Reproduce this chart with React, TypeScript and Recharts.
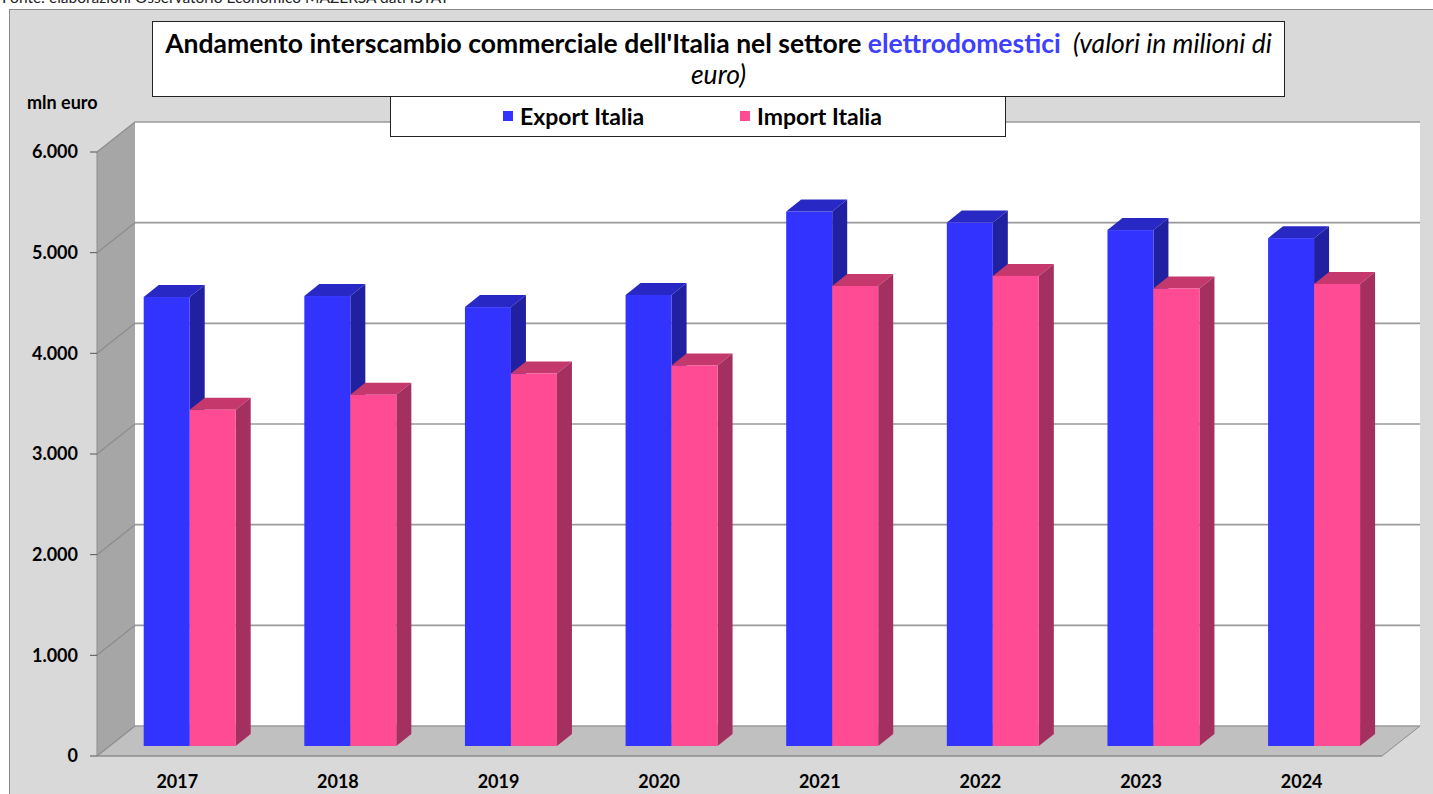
import React from "react";
import { Bar, BarChart, CartesianGrid, ReferenceArea, XAxis, YAxis } from "recharts";

const years = ["2017", "2018", "2019", "2020", "2021", "2022", "2023", "2024"];
const exportItalia = [4460, 4470, 4360, 4480, 5310, 5200, 5125, 5045];
const importItalia = [3340, 3490, 3700, 3780, 4570, 4670, 4545, 4590];
const yTicks = [0, 1000, 2000, 3000, 4000, 5000, 6000];
const seriesNames = ["Export Italia", "Import Italia"];
const seriesColors = ["#3333ff", "#ff4a94"];

const data = years.map((y, i) => ({ year: y, exp: exportItalia[i], imp: importItalia[i] }));

// depth of the 3d box (walls) and of the bars
const WX = 38;
const WY = -30;
const BX = 12.7;
const BY = -10;
const DX = 15;
const DY = -12;

const fmt = (v: number) => String(v).replace(/\B(?=(\d{3})+(?!\d))/g, ".");

function Box3D(props: any, front: string, top: string, side: string) {
  const { x, y, width, height } = props;
  if (!height || height <= 0) return <g />;
  const fx = x + BX;
  const fy = y + BY;
  return (
    <g>
      <polygon points={`${fx},${fy} ${fx + DX},${fy + DY} ${fx + width + DX},${fy + DY} ${fx + width},${fy}`} fill={top} />
      <polygon points={`${fx + width},${fy} ${fx + width + DX},${fy + DY} ${fx + width + DX},${fy + height + DY} ${fx + width},${fy + height}`} fill={side} />
      <rect x={fx} y={fy} width={width} height={height} fill={front} />
    </g>
  );
}

function Walls(props: any) {
  const { x, y, width, height } = props;
  const b = y + height;
  return (
    <g>
      <rect x={x + WX} y={y + WY} width={width} height={height} fill="#ffffff" />
      <polygon points={`${x},${b} ${x},${y} ${x + WX},${y + WY} ${x + WX},${b + WY}`} fill="#a6a6a6" />
      <polygon points={`${x},${b} ${x + width},${b} ${x + width + WX},${b + WY} ${x + WX},${b + WY}`} fill="#c0c0c0" />
      <line x1={x} y1={b} x2={x + width} y2={b} stroke="#8c8c8c" strokeWidth={1.5} />
      <line x1={x + width} y1={b} x2={x + width + WX} y2={b + WY} stroke="#8c8c8c" strokeWidth={1} />
    </g>
  );
}

function GridLine(props: any) {
  const { x1, y1, x2 } = props;
  return (
    <g key={props.key}>
      <line x1={x1} y1={y1} x2={x1 + WX} y2={y1 + WY} stroke="#8c8c8c" strokeWidth={1.2} />
      <line x1={x1 + WX} y1={y1 + WY} x2={x2 + WX} y2={y1 + WY} stroke="#9a9a9a" strokeWidth={1.6} />
    </g>
  );
}

export default function App() {
  return (
    <div style={{ position: "absolute", left: 0, top: 0, width: 1433, height: 794, overflow: "hidden", background: "#fff", fontFamily: "Lato, 'Open Sans', sans-serif" }}>
      <div style={{ position: "absolute", left: 9, top: 9, right: 0, bottom: 0, background: "#d9d9d9", borderTop: "1px solid #8a8a8a", borderLeft: "1px solid #8a8a8a" }} />
      <div style={{ position: "absolute", left: 2, top: -12, fontSize: 15.5, color: "#222", whiteSpace: "nowrap" }}>
        Fonte: elaborazioni Osservatorio Economico MAZERSA dati ISTAT
      </div>
      <div style={{ position: "absolute", left: 0, top: 0 }}>
        <BarChart width={1433} height={794} data={data} margin={{ top: 152, right: 51, bottom: 8, left: 10 }} barGap={0} barSize={46}>
          <ReferenceArea y1={0} y2={6000} ifOverflow="visible" shape={Walls} zIndex={-200} />
          <CartesianGrid vertical={false} horizontal={GridLine} zIndex={-150} />
          <XAxis dataKey="year" axisLine={false} tickLine={false} height={30} tick={{ fontSize: 18, fontWeight: 700, fill: "#000" }} dy={11} />
          <YAxis
            domain={[0, 6000]}
            ticks={yTicks}
            width={87}
            tickFormatter={fmt}
            axisLine={{ stroke: "#8c8c8c" }}
            tickLine={{ stroke: "#555" }}
            tickSize={7}
            tickMargin={12}
            tick={{ fontSize: 18, fontWeight: 700, fill: "#000" }}
          />
          <Bar dataKey="exp" name={seriesNames[0]} fill={seriesColors[0]} isAnimationActive={false} shape={(p: any) => Box3D(p, "#3333ff", "#2828c4", "#2020a0")} />
          <Bar dataKey="imp" name={seriesNames[1]} fill={seriesColors[1]} isAnimationActive={false} shape={(p: any) => Box3D(p, "#ff4a94", "#c4386c", "#a3305f")} />
        </BarChart>
      </div>
      <div style={{ position: "absolute", left: 152, top: 21, width: 1133, height: 76, boxSizing: "border-box", border: "1.5px solid #222", background: "#fff", textAlign: "center", fontSize: 26.5, lineHeight: "31px", paddingTop: 6, color: "#000", whiteSpace: "nowrap" }}>
        <span style={{ fontWeight: 700 }}>Andamento interscambio commerciale dell'Italia nel settore </span>
        <span style={{ fontWeight: 700, color: "#3f3fff" }}>elettrodomestici</span>
        <span style={{ fontStyle: "italic" }}>{"\u00a0 (valori in milioni di"}</span>
        <br />
        <span style={{ fontStyle: "italic" }}>euro)</span>
      </div>
      <div style={{ position: "absolute", left: 390, top: 96, width: 616, height: 41, boxSizing: "border-box", border: "1.5px solid #222", background: "#fff" }}>
        {seriesNames.map((n, i) => (
          <div key={n} style={{ position: "absolute", left: i === 0 ? 112 : 349, top: 0, height: 38, display: "flex", alignItems: "center", fontWeight: 700, fontSize: 23, color: "#000", whiteSpace: "nowrap" }}>
            <span style={{ display: "inline-block", width: 10, height: 10, background: seriesColors[i], marginRight: 7 }} />
            {n}
          </div>
        ))}
      </div>
      <div style={{ position: "absolute", left: 27, top: 91, fontSize: 18, fontWeight: 700, color: "#000" }}>mln euro</div>
    </div>
  );
}
